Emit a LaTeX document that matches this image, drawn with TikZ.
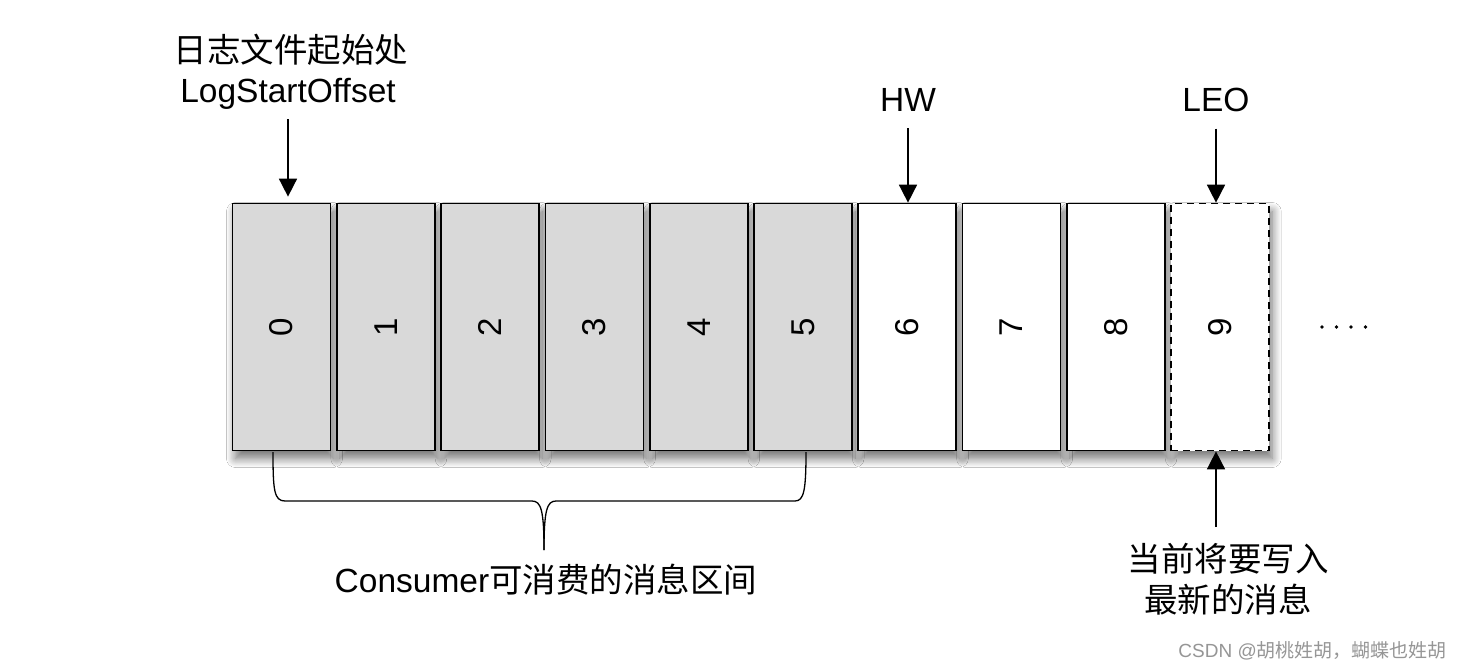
\documentclass[tikz,border=0pt]{standalone}
\usepackage{fontspec}
\setmainfont{Liberation Sans}
\newfontfamily\cjk{Noto Sans CJK SC}
\usetikzlibrary{arrows.meta,shadows.blur}
\definecolor{boxgray}{RGB}{217,217,217}
\definecolor{wmgray}{RGB}{150,150,150}
\begin{document}
\begin{tikzpicture}[x=1pt,y=-1pt,
  cell/.style={draw=black, line width=1.7pt, minimum width=98pt, minimum height=247pt, inner sep=0pt,
    blur shadow={shadow xshift=3pt,shadow yshift=-8pt,shadow blur radius=9pt,shadow blur steps=10,shadow opacity=55}},
  used/.style={cell, fill=boxgray},
  free/.style={cell, fill=white},
  nextcell/.style={cell, fill=white, dash pattern=on 7pt off 5pt},
  digit/.style={font=\fontsize{33}{33}\selectfont, rotate=90, inner sep=0pt},
  lab/.style={font=\fontsize{33.5}{38}\selectfont, inner sep=0pt},
  arr/.style={line width=1.6pt, -{Triangle[length=18pt,width=18pt]}},
  bracepath/.style={line width=1.3pt},
]
\useasboundingbox (0,0) rectangle (1462,670);
\fill[white] (0,0) rectangle (1462,670);

% cells
\foreach \i in {0,...,5}{
  \node[used] (b\i) at ({281.5+104.3*\i},327) {};
  \node[digit] (d\i) at (b\i) {\i};
}
\foreach \i in {6,7,8}{
  \node[free] (b\i) at ({281.5+104.3*\i},327) {};
  \node[digit] (d\i) at (b\i) {\i};
}
\node[nextcell] (b9) at ({281.5+104.3*9},327) {};
\node[digit] (d9) at (b9) {9};

% dots
\foreach \k in {0,...,3}
  \fill (1322+14.5*\k,327) circle (1.8pt);

% top labels
\node[lab] (start) at (291,50) {\cjk 日志文件起始处};
\node[lab, anchor=base] (lso) at (288,102) {LogStartOffset};
\draw[arr, shorten <=10pt, shorten >=6pt] (lso.south) -- (lso.south |- b0.north);

\node[lab, anchor=base] (hw) at (908,111) {HW};
\draw[arr, shorten <=17pt] (hw.south) -- (hw.south |- b6.north);

\node[lab, anchor=base] (leo) at (1216,111) {LEO};
\draw[arr, shorten <=17pt] (leo.south) -- (leo.south |- b9.north);

% bottom right
\node[lab] (cur1) at (1228,559) {\cjk 当前将要写入};
\node[lab] (cur2) at (1228,600) {\cjk 最新的消息};
\coordinate (curtail) at (1216,527);
\draw[arr] (curtail) -- (curtail |- b9.south);

% brace
\coordinate (brl) at (273,452);
\coordinate (brr) at (806,452);
\coordinate (brtip) at (544,550);
\draw[bracepath] (brl) .. controls (273,490) and (274,501) .. (285,501) -- (532,501)
  .. controls (541,501) and (544,510) .. (brtip);
\draw[bracepath] (brtip) .. controls (544,510) and (547,501) .. (556,501) -- (795,501)
  .. controls (804,501) and (806,490) .. (brr);
\node[lab, anchor=base] (cons) at (546,592) {Consumer\cjk 可消费的消息区间};

% watermark
\node[anchor=east, text=wmgray, font=\fontsize{19}{19}\selectfont, inner sep=0pt] (wm) at (1447,651) {CSDN @\cjk 胡桃姓胡，蝴蝶也姓胡};
\end{tikzpicture}
\end{document}
